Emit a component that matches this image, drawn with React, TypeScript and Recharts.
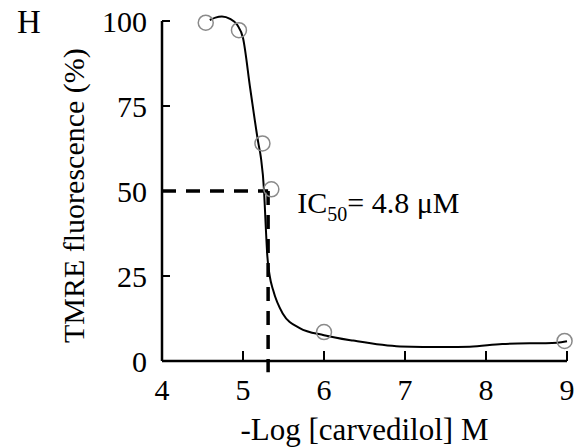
import React from "react";
import { ComposedChart, Line, Scatter, XAxis, YAxis, ReferenceLine, ReferenceDot } from "recharts";

const xTicks = [4, 5, 6, 7, 8, 9];
const yTicks = [0, 25, 50, 75, 100];

const measuredX = [4.54, 4.95, 5.24, 5.35, 6.0, 8.97];
const measuredY = [99.5, 97.3, 64, 50.5, 8.5, 5.9];

const fitX = [4.59, 4.66, 4.74, 4.84, 4.93, 5.0, 5.09, 5.19, 5.22, 5.26, 5.28, 5.3, 5.33, 5.37, 5.49, 5.7, 6.0, 6.36, 6.94, 7.5, 7.8, 8.2, 8.88, 9.0];
const fitY = [100.3, 101.0, 101.3, 100.6, 98.8, 95, 80, 64, 60, 50, 40, 31, 25, 21, 14, 9.7, 7.6, 6.0, 4.3, 4.1, 4.2, 5.0, 5.4, 5.8];

const ic50X = 5.31;
const ic50Y = 50;
const ic50Label = { x: 5.67, y: 43.5, main: "IC", sub: "50", rest: "= 4.8 \u03bcM" };

const measured = measuredX.map((x, i) => ({ x, y: measuredY[i] }));
const fit = fitX.map((x, i) => ({ x, y: fitY[i] }));

const FONT = "Liberation Serif";

const XTick = (p: any) => (
  <text x={p.x} y={p.y} dy="0.71em" textAnchor="middle" fontSize={30} fontFamily={FONT} fill="#000">
    {p.payload.value}
  </text>
);

const YTick = (p: any) => (
  <text x={p.x} y={p.y} dy="0.355em" textAnchor="end" fontSize={30} fontFamily={FONT} fill="#000">
    {p.payload.value}
  </text>
);

export default function App() {
  return (
    <div style={{ position: "absolute", left: 0, top: 0, width: 587, height: 448, background: "#fff", fontFamily: FONT }}>
      <div style={{ position: "absolute", left: 17, top: 2, fontFamily: FONT, fontSize: 33, color: "#000", lineHeight: "40px" }}>H</div>
      <ComposedChart width={587} height={448} margin={{ top: 14.2, right: 20, bottom: 0, left: 0 }}>
        <XAxis
          type="number"
          dataKey="x"
          domain={[4, 9]}
          ticks={xTicks}
          height={87}
          tickSize={-10}
          tickMargin={28}
          axisLine={{ stroke: "#000", strokeWidth: 2.5 }}
          tickLine={{ stroke: "#000", strokeWidth: 2 }}
          tick={XTick}
          label={{
            content: (props: any) => {
              const vb = props.viewBox || {};
              return (
                <text x={vb.x + vb.width / 2} y={vb.y + 79} textAnchor="middle" fontSize={31} fontFamily={FONT} fill="#000">
                  -Log [carvedilol] M
                </text>
              );
            },
          }}
        />
        <YAxis
          type="number"
          domain={[0, 102]}
          ticks={yTicks}
          width={162}
          tickSize={-8}
          tickMargin={23}
          axisLine={false}
          tickLine={{ stroke: "#000", strokeWidth: 2 }}
          tick={YTick}
          label={{
            content: (props: any) => {
              const vb = props.viewBox || {};
              const cx = vb.x + 84;
              const cy = vb.y + vb.height / 2 + 8;
              return (
                <text x={cx} y={cy} transform={`rotate(-90 ${cx} ${cy})`} textAnchor="middle" fontSize={30} fontFamily={FONT} fill="#000">
                  TMRE fluorescence (%)
                </text>
              );
            },
          }}
        />
        <ReferenceLine
          segment={[{ x: 4, y: 0 }, { x: 4, y: 100 }]}
          stroke="#000"
          strokeWidth={2.5}
          ifOverflow="visible"
        />
        <ReferenceLine
          segment={[{ x: 4, y: ic50Y }, { x: ic50X, y: ic50Y }]}
          stroke="#000"
          strokeWidth={3.5}
          strokeDasharray="14 10"
          ifOverflow="visible"
        />
        <ReferenceLine
          segment={[{ x: ic50X, y: ic50Y }, { x: ic50X, y: -3.3 }]}
          stroke="#000"
          strokeWidth={3.5}
          strokeDasharray="14 10"
          ifOverflow="visible"
        />
        <Line
          data={fit}
          dataKey="y"
          type="monotone"
          stroke="#000"
          strokeWidth={2}
          dot={false}
          activeDot={false}
          isAnimationActive={false}
        />
        <Scatter
          data={measured}
          dataKey="y"
          isAnimationActive={false}
          shape={(p: any) => <circle cx={p.cx} cy={p.cy} r={7.5} fill="none" stroke="#8a8a8a" strokeWidth={1.5} />}
        />
        <ReferenceDot
          x={ic50Label.x}
          y={ic50Label.y}
          r={0}
          fill="none"
          stroke="none"
          ifOverflow="visible"
          label={{
            content: (props: any) => {
              const vb = props.viewBox || {};
              const x = vb.x + (vb.width || 0) / 2;
              const y = vb.y + (vb.height || 0) / 2;
              return (
                <text x={x} y={y} fontSize={30} fontFamily={FONT} fill="#000">
                  {ic50Label.main}
                  <tspan fontSize={20} dy={8}>{ic50Label.sub}</tspan>
                  <tspan dy={-8}>{ic50Label.rest}</tspan>
                </text>
              );
            },
          }}
        />
      </ComposedChart>
    </div>
  );
}
